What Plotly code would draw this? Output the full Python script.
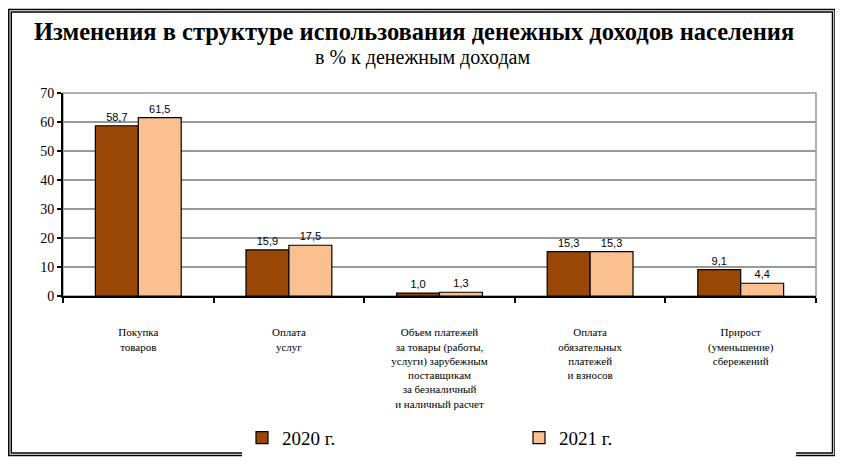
import plotly.graph_objects as go

# categories (x-axis labels) and series values, % of money income
categories = [
    "Покупка<br>товаров",
    "Оплата<br>услуг",
    "Объем платежей<br>за товары (работы,<br>услуги) зарубежным<br>поставщикам<br>за безналичный<br>и наличный расчет",
    "Оплата<br>обязательных<br>платежей<br>и взносов",
    "Прирост<br>(уменьшение)<br>сбережений",
]
values_2020 = [58.7, 15.9, 1.0, 15.3, 9.1]
values_2021 = [61.5, 17.5, 1.3, 15.3, 4.4]
y_ticks = [0, 10, 20, 30, 40, 50, 60, 70]

# page body has an 8px margin, so the figure is shrunk by that much
OFF = 8
W, H = 843 - OFF, 469 - OFF
L, R, T, B = 63 - OFF, 27, 93 - OFF, 171
PW, PH = W - L - R, H - T - B


def px_x(p):
    return (p - OFF - L) / PW


def px_y(p):
    return (H - B - (p - OFF)) / PH


bar_text = dict(family="Liberation Sans", size=11, color="black")

fig = go.Figure()
fig.add_trace(go.Bar(
    name="2020 г.", x=categories, y=values_2020,
    marker=dict(color="#994707", line=dict(color="black", width=1.2)),
    texttemplate="%{y:.1f}", textposition="outside",
    textfont=bar_text, cliponaxis=False,
))
fig.add_trace(go.Bar(
    name="2021 г.", x=categories, y=values_2021,
    marker=dict(color="#FAC090", line=dict(color="black", width=1.2)),
    texttemplate="%{y:.1f}", textposition="outside",
    textfont=bar_text, cliponaxis=False,
))

shapes = [
    # gray plot-area frame
    dict(type="rect", xref="paper", yref="paper", x0=0, x1=1, y0=0, y1=1,
         line=dict(color="#999999", width=1.5), layer="below"),
    # double outer border
    dict(type="rect", xref="paper", yref="paper",
         x0=px_x(8.8), x1=px_x(835), y0=px_y(459), y1=px_y(8.8),
         line=dict(color="black", width=1.5)),
    dict(type="rect", xref="paper", yref="paper",
         x0=px_x(11.3), x1=px_x(832.5), y0=px_y(456.5), y1=px_y(11.3),
         line=dict(color="black", width=1.5)),
]

fig.update_layout(
    width=W, height=H,
    margin=dict(l=L, r=R, t=T, b=B),
    paper_bgcolor="white", plot_bgcolor="white",
    separators=", ",
    barmode="group", bargap=0.43, bargroupgap=0,
    showlegend=True,
    legend=dict(orientation="h", x=px_x(242), xanchor="left",
                y=px_y(422), yanchor="top",
                entrywidth=232, entrywidthmode="pixels",
                font=dict(family="Liberation Serif", size=19, color="black")),
    shapes=shapes,
    annotations=[
        dict(text="<b>Изменения в структуре использования денежных доходов населения</b>",
             xref="paper", yref="paper", x=px_x(414), y=px_y(31),
             xanchor="center", yanchor="middle", showarrow=False,
             font=dict(family="Liberation Serif", size=24.5, color="black")),
        dict(text="в % к денежным доходам",
             xref="paper", yref="paper", x=px_x(422), y=px_y(57),
             xanchor="center", yanchor="middle", showarrow=False,
             font=dict(family="Liberation Serif", size=20, color="black")),
    ],
)

fig.update_xaxes(
    type="category", tickson="boundaries",
    showline=True, linecolor="black", linewidth=2,
    ticks="outside", ticklen=5, tickcolor="black", tickwidth=1.5,
    showgrid=False, ticklabelstandoff=25,
    tickfont=dict(family="Liberation Serif", size=11, color="black"),
)
fig.update_yaxes(
    range=[0, 70], tickvals=y_ticks,
    showline=True, linecolor="black", linewidth=2,
    ticks="outside", ticklen=4, tickcolor="black", tickwidth=1.5,
    showgrid=True, gridcolor="#999999", gridwidth=1.5,
    zeroline=False,
    tickfont=dict(family="Liberation Serif", size=14, color="black"),
)

fig.write_html("out.html")
